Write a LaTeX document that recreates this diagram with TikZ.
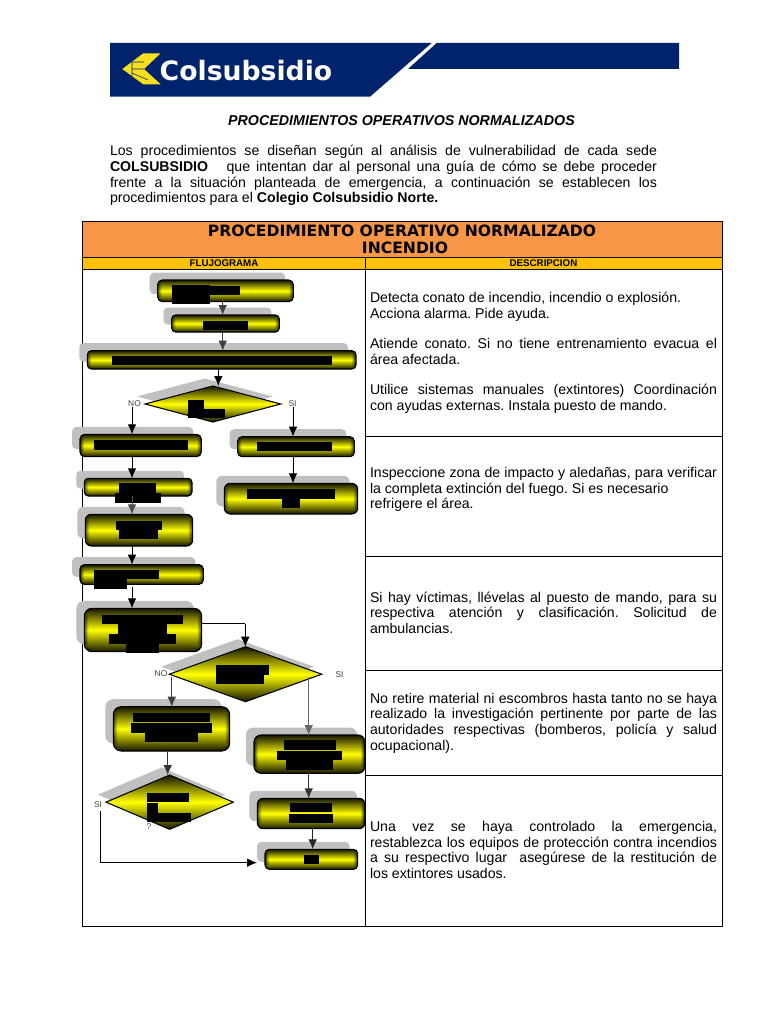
\documentclass[tikz,border=0pt]{standalone}
\usepackage{fontspec}
\setmainfont{Liberation Sans}
\newfontfamily\hdrfont{DejaVu Sans}
\usetikzlibrary{shapes.geometric,arrows.meta,calc}
\definecolor{navy}{HTML}{00236B}
\definecolor{logoyellow}{HTML}{F8E020}
\definecolor{hdrorange}{HTML}{F79646}
\definecolor{hdryellow}{HTML}{FFC000}
\definecolor{shadowgray}{HTML}{C0C0C0}
\definecolor{gold}{HTML}{FFFF00}
\tikzset{
  goldbase/.style={draw=black,line width=0.8pt,inner sep=0pt,outer sep=0pt,top color=black!92!gold,bottom color=black!92!gold,middle color=gold},
  goldbox/.style={goldbase,rectangle,
    path picture={
      \foreach \k/\o in {0/0.75,1/0.5,2/0.3,3/0.12}{
        \fill[black,opacity=\o] ($(path picture bounding box.north west)+(\k,0)$) rectangle ($(path picture bounding box.south west)+(\k+1,0)$);
        \fill[black,opacity=\o] ($(path picture bounding box.north east)+(-\k,0)$) rectangle ($(path picture bounding box.south east)+(-\k-1,0)$);
      }
    }},
  golddia/.style={goldbase,diamond},
  shadebox/.style={fill=shadowgray,draw=none,rectangle,inner sep=0pt,outer sep=0pt},
  shadedia/.style={fill=shadowgray,draw=none,diamond,inner sep=0pt,outer sep=0pt},
  conn/.style={-{Latex[length=7.5pt,width=6.5pt]},line width=0.75pt,draw=#1},
  conn/.default=black,
  lbl/.style={font=\fontsize{6.3}{7}\selectfont,text=black!75,inner sep=0pt},
  para/.style={anchor=north west,inner sep=0pt,outer sep=0pt,align=justify,font=\frenchspacing\fontsize{10.6}{11.7}\selectfont},
  grid/.style={line width=0.6pt,draw=black},
  redact/.style={fill=black,draw=none},
}
\newcommand{\gbox}[5]{%
  \pgfmathsetmacro\gw{(#4-#2)*0.75}%
  \pgfmathsetmacro\gh{(#5-#3)*0.75}%
  \pgfmathsetmacro\gr{0.15*\gh+1}%
  \node[shadebox,rounded corners=\gr pt,minimum width=\gw pt,minimum height=\gh pt] (#1s) at ({(#2+#4)/2-8},{(#3+#5)/2-7.5}) {};
  \node[goldbox,rounded corners=\gr pt,minimum width=\gw pt,minimum height=\gh pt] (#1) at ({(#2+#4)/2},{(#3+#5)/2}) {};
}
\newcommand{\gdia}[5]{%
  \pgfmathsetmacro\gw{(#4-#2)*0.75}%
  \pgfmathsetmacro\gh{(#5-#3)*0.75}%
  \pgfmathsetmacro\ga{\gw/\gh}%
  \node[shadedia,shape aspect=\ga,minimum width=\gw pt,minimum height=\gh pt] (#1s) at ({(#2+#4)/2-8},{(#3+#5)/2-7.5}) {};
  \node[golddia,shape aspect=\ga,minimum width=\gw pt,minimum height=\gh pt] (#1) at ({(#2+#4)/2},{(#3+#5)/2}) {};
}
\newcommand{\rd}[4]{\fill[redact] (#1,#2) rectangle (#3,#4);}
\begin{document}
\begin{tikzpicture}[x=0.75pt,y=-0.75pt]
\useasboundingbox[fill=white] (0,0) rectangle (768,1024);

% banner
\fill[navy] (110,43) -- (431.7,43) -- (370,96.7) -- (110,96.7) -- cycle;
\fill[navy] (436.7,43) -- (679,43) -- (679,69) -- (408,69) -- cycle;
\fill[logoyellow] (122.3,69) -- (143.3,53.3) -- (160.7,53.3) -- (144,69) -- (160.7,84.3) -- (143.3,84.3) -- cycle;
\draw[navy,line width=0.4pt] (132,62) -- (144,62) (132,62) -- (132,76.5) (132,69) -- (144,69) (132,73) -- (148,80);
\node[text=white,inner sep=0pt,font=\hdrfont\bfseries\fontsize{20}{21}\selectfont] (logotext) at (246,71) {Colsubsidio};

% title and intro
\node[inner sep=0pt,font=\bfseries\itshape\fontsize{10.7}{12}\selectfont] (title) at (401.5,120.5) {PROCEDIMIENTOS OPERATIVOS NORMALIZADOS};
\node[para,text width=410.25pt] (intro) at (110,145.5) {Los procedimientos se diseñan según al análisis de vulnerabilidad de cada sede\linebreak
\textbf{COLSUBSIDIO}~~ que intentan dar al personal una guía de cómo se debe proceder\linebreak
frente a la situación planteada de emergencia, a continuación se establecen los\linebreak
procedimientos para el \textbf{Colegio Colsubsidio Norte.}};

% table
\fill[hdrorange] (82,221) rectangle (722,257);
\fill[hdryellow] (82,257) rectangle (722,269);
\draw[grid] (82,221) rectangle (722,926);
\draw[grid] (82,257) -- (722,257);
\draw[grid] (82,269.5) -- (722,269.5);
\draw[grid] (365.5,257) -- (365.5,926);
\draw[grid] (365.5,436) -- (722,436);
\draw[grid] (365.5,556) -- (722,556);
\draw[grid] (365.5,670) -- (722,670);
\draw[grid] (365.5,775) -- (722,775);
\node[inner sep=0pt,font=\hdrfont\bfseries\fontsize{11.7}{13}\selectfont] (hdrA) at (402,231) {PROCEDIMIENTO OPERATIVO NORMALIZADO};
\node[inner sep=0pt,font=\hdrfont\bfseries\fontsize{11.7}{13}\selectfont] (hdrB) at (405,248) {INCENDIO};
\node[inner sep=0pt,font=\bfseries\fontsize{7.3}{8}\selectfont] (colA) at (224,263.2) {FLUJOGRAMA};
\node[inner sep=0pt,font=\bfseries\fontsize{7.3}{8}\selectfont] (colB) at (543.5,263.2) {DESCRIPCION};

% description text
\node[para,text width=260.25pt] (t1) at (370,292.5) {Detecta conato de incendio, incendio o explosión.\\Acciona alarma. Pide ayuda.};
\node[para,text width=260.25pt] (t2) at (370,338.5) {Atiende conato. Si no tiene entrenamiento evacua el\linebreak área afectada.};
\node[para,text width=260.25pt] (t3) at (370,384.3) {Utilice sistemas manuales (extintores) Coordinación\linebreak con ayudas externas. Instala puesto de mando.};
\node[para,text width=260.25pt] (t4) at (370,467.5) {Inspeccione zona de impacto y aledañas, para verificar\linebreak la completa extinción del fuego. Si es necesario\\refrigere el área.};
\node[para,text width=260.25pt] (t5) at (370,591.7) {Si hay víctimas, llévelas al puesto de mando, para su\linebreak respectiva atención y clasificación. Solicitud de\linebreak ambulancias.};
\node[para,text width=260.25pt] (t6) at (370,693) {No retire material ni escombros hasta tanto no se haya\linebreak realizado la investigación pertinente por parte de las\linebreak autoridades respectivas (bomberos, policía y salud\linebreak ocupacional).};
\node[para,text width=260.25pt] (t7) at (370,821.3) {Una vez se haya controlado la emergencia,\linebreak restablezca los equipos de protección contra incendios\linebreak a su respectivo lugar~~asegúrese de la restitución de\linebreak los extintores usados.};

% flowchart shapes
\gbox{bA}{157.7}{280}{293.3}{301.7}
\gbox{bB}{171.7}{315}{279.3}{332}
\gbox{bC}{87.3}{350.7}{356}{369}
\gdia{dA}{145}{386}{280.7}{422}
\gbox{bD}{80}{434.3}{201.3}{456.7}
\gbox{bE}{237.7}{436.7}{354.3}{456.7}
\gbox{bF}{84.3}{478.3}{192}{496}
\gbox{bG}{224.3}{483.3}{357.7}{514}
\gbox{bH}{85.3}{514.3}{192.7}{546}
\gbox{bI}{80}{564.7}{203.3}{584.3}
\gbox{bJ}{84.3}{608.3}{201.7}{651.7}
\gdia{dB}{169.3}{646.7}{321.7}{701.7}
\gbox{bK}{113.3}{706.7}{229.7}{751}
\gbox{bL}{254}{735}{365}{773.3}
\gdia{dC}{106}{775}{233.3}{829.3}
\gbox{bM}{257.3}{798.3}{365}{828.7}
\gbox{bN}{265}{849.3}{357.7}{869.3}

% redaction blocks
\rd{171.7}{285}{210}{304.3}\rd{210}{285.7}{240}{295}
\rd{203}{320.7}{248}{330.3}
\rd{112}{356}{332}{365.3}
\rd{188}{400}{204}{418.3}\rd{204}{409.3}{225}{418.3}
\rd{94}{440}{188}{450}
\rd{257.3}{441.7}{332}{451}
\rd{119}{483.3}{156.3}{493.3}\rd{115}{493.3}{161.3}{503}
\rd{247.3}{489}{335}{498.7}\rd{281.7}{498.7}{300}{508.3}
\rd{116}{520.7}{161.7}{530}\rd{119}{530}{158.3}{539.3}
\rd{94}{570}{159.3}{579.3}\rd{94}{579.3}{127.3}{589}
\rd{102}{614.7}{182.7}{624}\rd{118.3}{624}{166.7}{634}\rd{109}{634}{175.7}{644}\rd{126}{644}{159.3}{653.3}
\rd{216}{665.3}{269.3}{674.7}\rd{216}{674.7}{264.3}{684}
\rd{133.3}{712.7}{210}{722}\rd{131.3}{723.3}{211.7}{732.7}\rd{145.3}{732.7}{198}{742.3}
\rd{283.7}{740.3}{336}{749.7}\rd{276.7}{751}{342}{760.3}\rd{285.7}{760.3}{333}{770}
\rd{146.7}{793}{188.7}{802.3}\rd{146.7}{803.3}{158.3}{813.3}\rd{146.7}{813.3}{190.7}{822.3}
\rd{290}{803.3}{332}{812.3}\rd{288.7}{814}{333}{823.3}
\rd{304}{854.7}{319}{864}

% labels
\node[lbl] (noA) at (134.5,403.5) {NO};
\node[lbl] (siA) at (292.5,403.5) {SI};
\node[lbl] (noB) at (161,673.5) {NO};
\node[lbl] (siB) at (339.5,674.5) {SI};
\node[lbl] (siC) at (98,804.5) {SI};
\node[lbl] (qm) at (149,826.5) {?};

% connector x positions
\coordinate (xA) at (222.7,0);
\coordinate (xB) at (218.3,0);
\coordinate (xC) at (132,0);
\coordinate (xD) at (293,0);
\coordinate (xE) at (171.7,0);
\coordinate (xF) at (308.7,0);
\coordinate (xG) at (167.7,0);
\coordinate (xH) at (312.7,0);
\coordinate (xJ) at (245.3,0);
\coordinate (xK) at (100.3,0);
\coordinate (yA) at (0,623.5);
\coordinate (yB) at (0,862.7);

% connectors
\draw[conn=black!75] (bA.south -| xA) -- (bB.north -| xA);
\draw[conn=black!75] (bB.south -| xA) -- (bC.north -| xA);
\draw[conn] (bC.south -| xB) -- (dA.north -| xB);
\draw[conn] (noA.south -| xC) -- (bD.north -| xC);
\draw[conn] (siA.south -| xD) -- (bE.north -| xD);
\draw[conn] (bD.south -| xC) -- (bF.north -| xC);
\draw[conn] (bE.south -| xD) -- (bG.north -| xD);
\draw[conn=black!70] (bF.south -| xC) -- (bH.north -| xC);
\draw[conn] (bH.south -| xC) -- (bI.north -| xC);
\draw[conn] ($(bI.south -| xC)+(0,3)$) -- (bJ.north -| xC);
\draw[line width=0.75pt] (bJ.east |- yA) -- (xJ |- yA);
\draw[conn] (xJ |- yA) -- (dB.north -| xJ);
\draw[conn=black!75] (noB.south -| xE) -- (bK.north -| xE);
\draw[conn=black!60] (siB.south -| xF) ++(0,-1) -- (bL.north -| xF);
\draw[conn=black!80] (bK.south -| xG) -- (dC.north -| xG);
\draw[conn=black!80] (bL.south -| xF) -- (bM.north -| xF);
\draw[conn=black!85] (bM.south -| xH) -- (bN.north -| xH);
\draw[conn] (siC.south -| xK) ++(0,3) -- (xK |- yB) -- (bNs.west |- yB);
\end{tikzpicture}
\end{document}
